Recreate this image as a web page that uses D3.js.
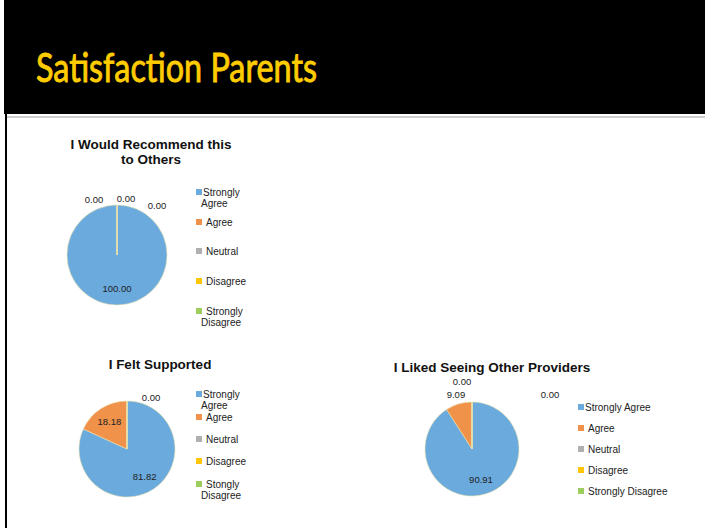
<!DOCTYPE html>
<html lang="en">
<head>
  <meta charset="UTF-8">
  <title>Satisfaction Parents</title>
  <style>
    body { margin:0; background:#fff; }
    svg { display:block; }
  </style>
</head>
<body>
  <script src="https://d3js.org/d3.v7.min.js"></script>
  <script>
    const WIDTH = 705;
    const HEIGHT = 528;

    // data
    const categories = ['Strongly Agree','Agree','Neutral','Disagree','Strongly Disagree'];
    const recommendValues = [100.00, 0.00, 0.00, 0.00, 0.00];
    const supportedValues = [81.82, 18.18, 0.00, 0.00, 0.00];
    const providersValues = [90.91, 9.09, 0.00, 0.00, 0.00];
    const legendRecommend = [['Strongly','Agree'],['Agree'],['Neutral'],['Disagree'],['Strongly','Disagree']];
    const legendSupported = [['Strongly','Agree'],['Agree'],['Neutral'],['Disagree'],['Stongly','Disagree']];
    const legendProviders = [['Strongly Agree'],['Agree'],['Neutral'],['Disagree'],['Strongly Disagree']];

    const colors = ['#6aaadd','#f0924a','#b0b0b0','#ffc60a','#9dcd5c'];
    const color = d3.scaleOrdinal().domain(categories).range(colors);

    // layout for each chart (zero labels are spread by hand like the original)
    const charts = [
      { title:['I Would Recommend this','to Others'], titleX:151, titleY:149,
        values:recommendValues, legend:legendRecommend,
        cx:117, cy:255, r:50,
        legendX:196, legendY:[192,222,251,281,311],
        outside:[],
        zeroLabels:[[-23,-55],[9,-56],[40,-49]] },
      { title:['I Felt Supported'], titleX:160, titleY:369,
        values:supportedValues, legend:legendSupported,
        cx:127, cy:449, r:48,
        legendX:196, legendY:[394,417,439,461,484],
        outside:[],
        zeroLabels:[[24,-51]] },
      { title:['I Liked Seeing Other Providers'], titleX:492, titleY:372,
        values:providersValues, legend:legendProviders,
        cx:472, cy:449, r:47,
        legendX:578, legendY:[407,428,449,470,491],
        outside:[1],
        zeroLabels:[[-10,-67],[78,-54]] }
    ];

    const svg = d3.select('body').append('svg')
      .attr('width', WIDTH)
      .attr('height', HEIGHT);

    // slide header
    svg.append('rect').attr('x',4).attr('y',0).attr('width',WIDTH-4).attr('height',114).attr('fill','#000');
    svg.append('rect').attr('x',7).attr('y',116).attr('width',WIDTH-7).attr('height',2).attr('fill','#cfcfcf');
    svg.append('rect').attr('x',5).attr('y',114).attr('width',2).attr('height',HEIGHT-114).attr('fill','#000');
    svg.append('text')
      .attr('x',36).attr('y',82)
      .attr('font-family','Lato, "Open Sans", sans-serif')
      .attr('font-size','40px')
      .attr('textLength',281)
      .attr('lengthAdjust','spacingAndGlyphs')
      .attr('fill','#ffcc00')
      .attr('stroke','#ffcc00')
      .attr('stroke-width',0.9)
      .text('Satisfaction Parents');

    const pie = d3.pie().sort(null).value(d => d);

    charts.forEach(c => {
      const g = svg.append('g');

      // title
      c.title.forEach((line,i) => {
        g.append('text')
          .attr('x',c.titleX).attr('y',c.titleY + i*15)
          .attr('text-anchor','middle')
          .attr('font-family','"Liberation Sans", Arial, sans-serif')
          .attr('font-weight','bold')
          .attr('font-size','13.5px')
          .attr('fill','#111')
          .text(line);
      });

      const arcs = pie(c.values);
      const arc = d3.arc().innerRadius(0).outerRadius(c.r);
      const pieG = g.append('g').attr('transform',`translate(${c.cx},${c.cy})`);

      pieG.selectAll('path')
        .data(arcs)
        .enter()
        .append('path')
        .attr('d', arc)
        .attr('fill', (d,i) => color(categories[i]))
        .attr('stroke', '#e8e0b0')
        .attr('stroke-width', 0.6);

      // value labels of non-zero slices
      const inArc = d3.arc().innerRadius(c.r*0.68).outerRadius(c.r*0.68);
      const outArc = d3.arc().innerRadius(c.r+10).outerRadius(c.r+10);
      pieG.selectAll('text.val')
        .data(arcs.filter(d => d.value > 0))
        .enter()
        .append('text')
        .attr('class','val')
        .attr('transform', d => {
          const a = c.outside.includes(d.index) ? outArc : inArc;
          const [x,y] = a.centroid(d);
          return `translate(${x},${y})`;
        })
        .attr('dy','0.35em')
        .attr('text-anchor','middle')
        .attr('font-family','"Liberation Sans", Arial, sans-serif')
        .attr('font-size','9.5px')
        .attr('fill','#222')
        .text(d => d.value.toFixed(2));

      // zero labels
      const zeros = arcs.filter(d => d.value === 0);
      pieG.selectAll('text.zero')
        .data(c.zeroLabels.map((p,i) => ({p, d:zeros[i]})))
        .enter()
        .append('text')
        .attr('class','zero')
        .attr('x', o => o.p[0])
        .attr('y', o => o.p[1])
        .attr('dy','0.35em')
        .attr('text-anchor','middle')
        .attr('font-family','"Liberation Sans", Arial, sans-serif')
        .attr('font-size','9.5px')
        .attr('fill','#222')
        .text(o => o.d.value.toFixed(2));

      // legend
      const leg = g.selectAll('g.leg')
        .data(categories)
        .enter()
        .append('g')
        .attr('class','leg')
        .attr('transform', (d,i) => `translate(${c.legendX},${c.legendY[i]})`);
      leg.append('rect')
        .attr('x',0).attr('y',-3)
        .attr('width',6).attr('height',6)
        .attr('fill', d => color(d));
      leg.each(function(d,i) {
        const lines = c.legend[i];
        lines.forEach((line,j) => {
          d3.select(this).append('text')
            .attr('x', j > 0 ? 5 : (i === 0 ? 7 : 10))
            .attr('y', j*11.5)
            .attr('dy','0.35em')
            .attr('font-family','"Liberation Sans", Arial, sans-serif')
            .attr('font-size','10px')
            .attr('fill','#222')
            .text(line);
        });
      });
    });
  </script>
</body>
</html>
